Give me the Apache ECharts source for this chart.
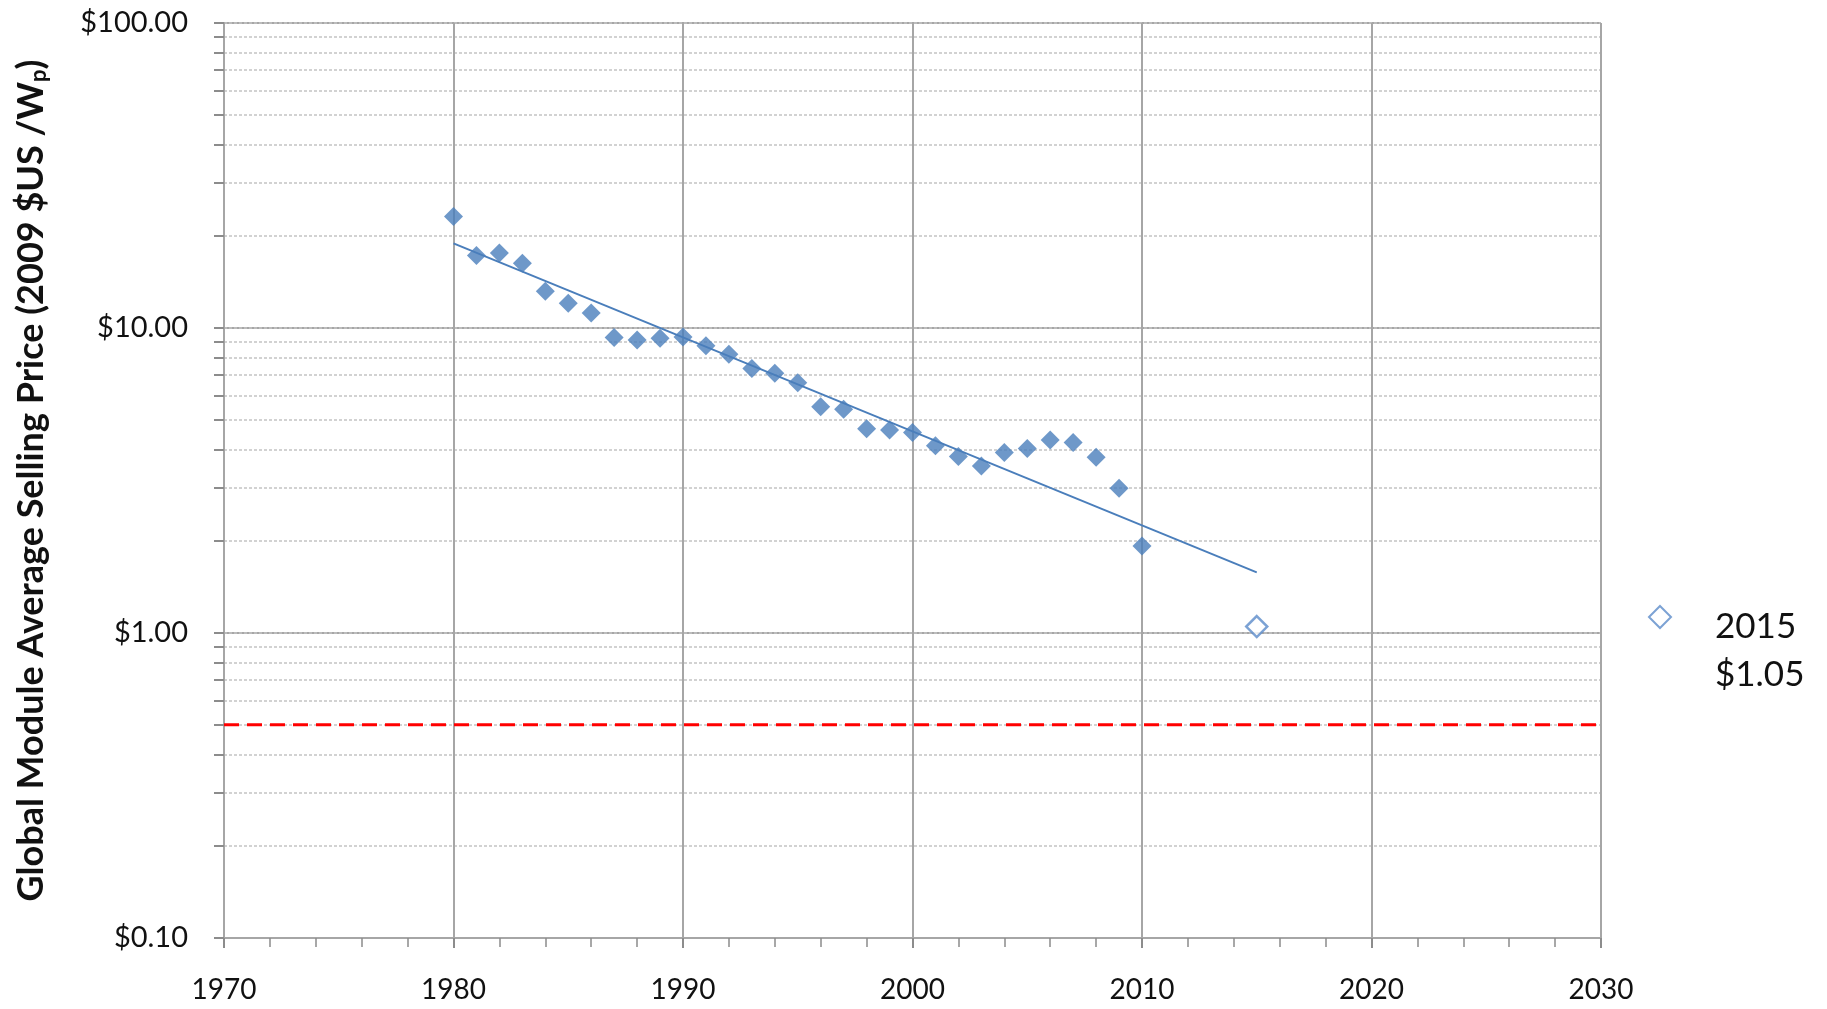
<!DOCTYPE html>
<html>
<head>
<meta charset="utf-8">
<script src="https://cdn.jsdelivr.net/npm/echarts@6/dist/echarts.min.js"></script>
<style>html,body{margin:0;padding:0;background:#fff}#c{width:1827px;height:1009px}</style>
</head>
<body>
<div id="c"></div>
<script>
// ---- data ----
const years = [1980,1981,1982,1983,1984,1985,1986,1987,1988,1989,1990,1991,1992,1993,1994,1995,1996,1997,1998,1999,2000,2001,2002,2003,2004,2005,2006,2007,2008,2009,2010];
const prices = [23.2,17.3,17.6,16.3,13.2,12.05,11.2,9.3,9.13,9.25,9.35,8.75,8.2,7.36,7.1,6.62,5.52,5.41,4.67,4.63,4.54,4.11,3.79,3.53,3.91,4.03,4.29,4.21,3.77,2.98,1.93];
const trendYears = [1980, 2015];
const trendValues = [18.95, 1.58];
const projYear = [2015];
const projValue = [1.05];
const targetValue = 0.5;
const xRange = [1970, 2030];
const yMajorTicks = [0.1, 1, 10, 100];
const yAllTicks = [0.1,0.2,0.3,0.4,0.5,0.6,0.7,0.8,0.9,1,2,3,4,5,6,7,8,9,10,20,30,40,50,60,70,80,90,100];
const yTitle = 'Global Module Average Selling Price (2009 $US /W';
const yTitleSub = 'p';
const legendName = '2015\n$1.05';

const blue = '#4a7ebb';
const gridGray = '#a6a6a6';
const chart = echarts.init(document.getElementById('c'));
chart.setOption({
  animation: false,
  backgroundColor: '#fff',
  grid: {left: 224, right: 226, top: 23, bottom: 71, containLabel: false},
  legend: {
    left: 1643, top: 592, orient: 'vertical',
    data: [legendName],
    icon: 'path://M5,0 L10,5 L5,10 L0,5 Z M5,40.9 L5,40.9',
    itemWidth: 22, itemHeight: 90, itemGap: 10,
    textStyle: {fontFamily: 'Lato', fontSize: 35, color: '#111', lineHeight: 48, padding: [12,0,0,39]}
  },
  xAxis: {
    type: 'value', min: xRange[0], max: xRange[1], interval: 10,
    axisLine: {show: true, onZero: false, lineStyle: {color: gridGray, width: 2}},
    axisTick: {show: true, length: 10, lineStyle: {color: '#8c8c8c', width: 2}},
    minorTick: {show: true, splitNumber: 5, length: 9, lineStyle: {color: '#8c8c8c', width: 1.5}},
    splitLine: {show: true, lineStyle: {color: gridGray, width: 2}},
    axisLabel: {fontFamily: 'Lato', fontSize: 28, color: '#111', margin: 38, formatter: v => String(v)}
  },
  yAxis: [{
    type: 'log', logBase: 10, min: 0.1, max: 100,
    axisLine: {show: true, lineStyle: {color: gridGray, width: 2}},
    axisTick: {show: false},
    splitLine: {show: true, lineStyle: {color: gridGray, width: 2}},
    axisLabel: {fontFamily: 'Lato', fontSize: 29, color: '#111', margin: 36,
      customValues: yMajorTicks,
      formatter: v => '$' + Number(v).toFixed(2)},
    name: '{a|' + yTitle + '}{s|' + yTitleSub + '}{a|)}',
    nameLocation: 'middle', nameRotate: 90, nameGap: 174,
    nameTextStyle: {rich: {
      a: {fontFamily: 'Lato', fontSize: 36, fontWeight: 'bold', color: '#111'},
      s: {fontFamily: 'Lato', fontSize: 22, fontWeight: 'bold', color: '#111', verticalAlign: 'bottom', padding: [16,0,0,0]}
    }}
  }, {
    type: 'log', logBase: 10, min: 0.1, max: 100, position: 'left',
    axisLine: {show: false},
    axisTick: {show: true, length: 10, customValues: yAllTicks, lineStyle: {color: '#8c8c8c', width: 2}},
    axisLabel: {show: false},
    splitLine: {show: true, lineStyle: {color: '#c4c4c4', width: 1.5, type: [3,2]}}
  }],
  series: [{
    name: 'Module price', type: 'scatter', symbol: 'diamond', symbolSize: 19,
    itemStyle: {color: blue},
    data: years.map((y, i) => [y, prices[i]]), z: 5
  }, {
    name: 'Trend', type: 'line', symbol: 'none',
    lineStyle: {color: blue, width: 2},
    data: trendYears.map((y, i) => [y, trendValues[i]]), z: 4
  }, {
    name: legendName, type: 'scatter', symbol: 'diamond', symbolSize: 21,
    itemStyle: {color: '#fff', borderColor: '#5b8bc9', borderWidth: 2.5},
    data: projYear.map((y, i) => [y, projValue[i]]), z: 5
  }, {
    name: 'Target', type: 'line', symbol: 'none',
    lineStyle: {color: '#ff0000', width: 3, type: [15,8]},
    data: [[xRange[0], targetValue], [xRange[1], targetValue]], z: 3
  }]
});
</script>
</body>
</html>
